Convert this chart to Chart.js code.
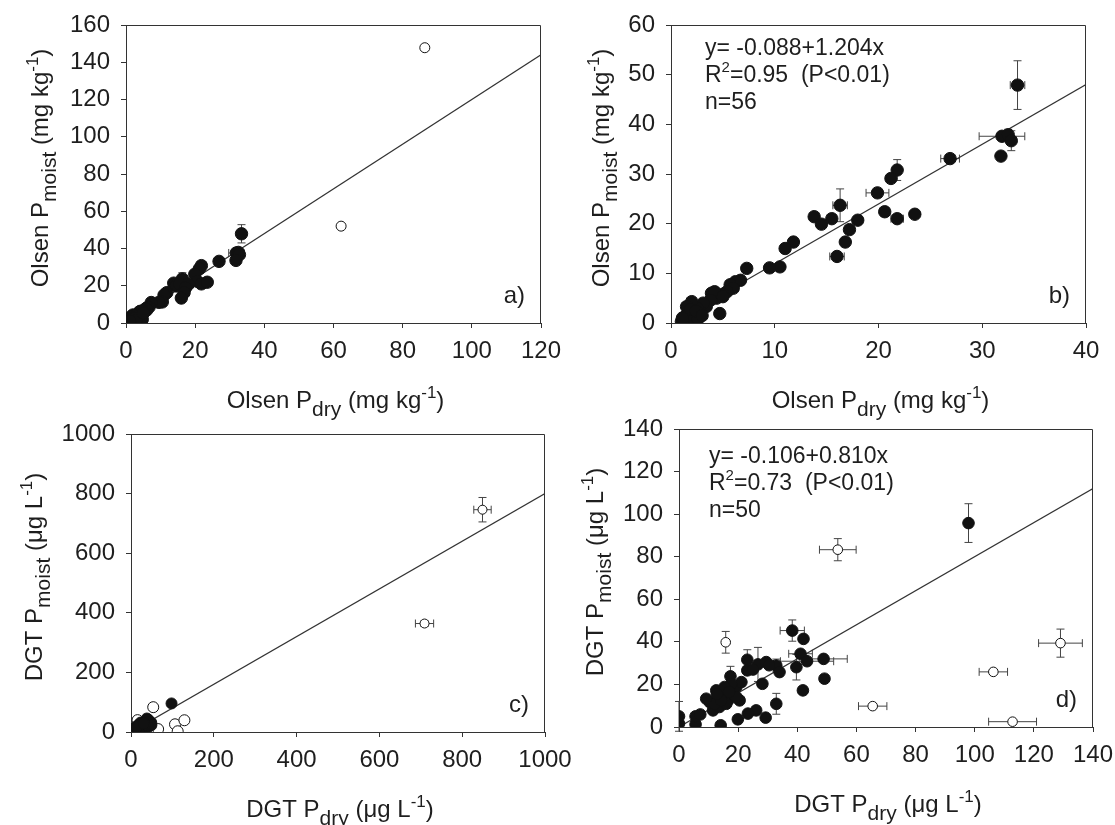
<!DOCTYPE html>
<html>
<head>
<meta charset="utf-8">
<script src="https://cdn.jsdelivr.net/npm/chart.js@4.4.1/dist/chart.umd.min.js"></script>
<style>
    body { margin: 0; background: #fff; }
    #wrap { position: relative; width: 1115px; height: 825px; overflow: hidden; }
    .panel { position: absolute; }
</style>
</head>
<body>
<div id="wrap">
    <div class="panel" style="left:0px;top:0px;width:580px;height:430px"><canvas id="pa"></canvas></div>
    <div class="panel" style="left:557px;top:0px;width:558px;height:430px"><canvas id="pb"></canvas></div>
    <div class="panel" style="left:0px;top:412px;width:580px;height:413px"><canvas id="pc"></canvas></div>
    <div class="panel" style="left:557px;top:412px;width:558px;height:413px"><canvas id="pd"></canvas></div>
</div>
<script>
// Olsen P, closed circles (n=56)
const olsenDry = [33.4, 31.9, 32.5, 32.8, 31.8, 26.9, 21.8, 21.2, 19.9, 20.6, 21.8, 23.5, 16.3, 13.8, 14.5, 15.5,
    18.0, 17.2, 16.8, 16.0, 11.8, 11.0, 10.5, 9.5, 7.3, 6.7, 6.2, 5.7, 6.0, 5.4, 5.0, 4.7, 4.4, 3.9, 4.2, 3.8,
    3.4, 3.1, 2.8, 2.5, 2.3, 2.15, 2.0, 1.8, 1.7, 1.5, 1.35, 1.0, 1.2, 1.6, 2.6, 1.9, 2.4, 3.0, 5.0, 1.1];
const olsenMoist = [47.9, 37.6, 37.9, 36.7, 33.6, 33.1, 30.8, 29.1, 26.2, 22.4, 21.0, 21.9, 23.7, 21.4, 19.9, 21.0,
    20.7, 18.8, 16.3, 13.4, 16.3, 15.0, 11.3, 11.1, 11.0, 8.6, 8.3, 7.7, 7.0, 6.3, 5.8, 1.9, 5.0, 6.0, 6.3, 4.6,
    3.3, 4.0, 2.3, 3.0, 1.9, 1.3, 4.3, 0.9, 2.3, 3.3, 1.3, 0.3, 0.6, 1.6, 0.8, 2.8, 2.4, 1.5, 5.3, 1.0];
const olsenDryErr = [0.7, 2.2, 0, 0, 0, 0.9, 0, 0.4, 1.1, 0, 0.6, 0, 0.7, 0, 0, 0, 0, 0, 0, 0.7];
const olsenMoistErr = [4.9, 0, 1.1, 2.0, 0, 0, 2.1, 0, 0, 0, 0, 0.6, 3.3, 0, 0, 0, 0, 0, 0, 0];
// Olsen P, open circles (outliers, panel a only)
const olsenDryOpen = [86.4, 62.2];
const olsenMoistOpen = [147.8, 52.0];

// DGT P, closed circles (n=50)
const dgtDry = [97.9, 38.3, 42.1, 41.1, 43.3, 48.9, 39.7, 49.2, 41.9, 32.9, 29.3, 26.1, 23.3, 19.9, 14.1, 5.6,
    0, 0, 5.6, 7.2, 23.1, 23.1, 26.7, 29.5, 32.9, 34.0, 28.2, 17.4, 10.4, 11.5, 12.6, 13.2, 14.9, 16.6, 18.3,
    19.4, 20.5, 21.1, 17.7, 15.4, 13.7, 19.4, 16.0, 12.1, 9.2, 14.3, 25.0, 17.0, 12.8, 30.5];
const dgtMoist = [95.8, 45.3, 41.4, 34.4, 30.9, 32.0, 28.1, 22.7, 17.2, 10.9, 4.4, 7.8, 6.3, 3.6, 0.8, 1.25,
    1.6, 5.0, 5.0, 5.9, 31.6, 26.6, 29.4, 30.5, 28.9, 25.8, 20.3, 23.8, 11.7, 7.8, 17.2, 13.3, 14.8, 12.5, 15.6,
    18.8, 12.5, 21.1, 20.3, 18.8, 9.4, 14.1, 10.9, 10.9, 13.3, 12.5, 27.0, 16.5, 15.5, 29.0];
const dgtDryErr = [1.0, 4.1, 0, 4.0, 9.0, 8.0, 0, 0, 0, 0, 0, 0, 0, 0, 0, 0, 0, 0];
const dgtMoistErr = [9.1, 5.0, 0, 0, 0, 0, 6.0, 0, 0, 4.9, 0, 0, 0, 0, 0, 0, 0, 7.0, 0, 0, 4.7, 0, 8.0, 0, 3.0,
    0, 0, 4.7];
// DGT P, open circles inside 0-140
const dgtDryOpen = [53.7, 15.8, 65.5, 106.3, 129.0, 112.8];
const dgtMoistOpen = [83.3, 39.8, 9.8, 25.9, 39.4, 2.5];
const dgtDryOpenErr = [6.2, 0, 4.8, 4.8, 7.4, 8.1];
const dgtMoistOpenErr = [5.2, 5.1, 0, 0, 6.6, 0];
// DGT P, open circles beyond 140 (panel c only)
const dgtDryFar = [849, 709];
const dgtMoistFar = [746, 364];
const dgtDryFarErr = [21, 22];
const dgtMoistFarErr = [41, 10];

// fitted lines, end points
const fitA = [[0, 0], [120, 144]];
const fitB = [[0.5, 0.5], [40, 48]];
const fitC = [[0, 0], [1000, 800]];
const fitD = [[0, 0], [140, 112]];

// tick labels
const ticksAx = [0, 20, 40, 60, 80, 100, 120];
const ticksAy = [0, 20, 40, 60, 80, 100, 120, 140, 160];
const ticksBx = [0, 10, 20, 30, 40];
const ticksBy = [0, 10, 20, 30, 40, 50, 60];
const ticksCx = [0, 200, 400, 600, 800, 1000];
const ticksCy = [0, 200, 400, 600, 800, 1000];
const ticksDx = [0, 20, 40, 60, 80, 100, 120, 140];
const ticksDy = [0, 20, 40, 60, 80, 100, 120, 140];

const FONT = '"Liberation Sans", Arial, Helvetica, sans-serif';
const INK = '#1e1e1e';

function pts(xs, ys) {
    let out = [];
    for (let i = 0; i < xs.length; i++) {
        out.push({x: xs[i], y: ys[i]});
    }
    return out;
}

function T(t) { return {t: t, size: 24, dy: 0}; }
function Sub(t) { return {t: t, size: 21, dy: 8}; }
function Sup(t) { return {t: t, size: 17, dy: -10}; }

function drawRich(ctx, segs, x, y, align) {
    let total = 0;
    segs.forEach(s => {
        ctx.font = s.size + 'px ' + FONT;
        s.w = ctx.measureText(s.t).width;
        total += s.w;
    });
    let cx = align === 'center' ? x - total / 2 : x;
    ctx.textAlign = 'left';
    ctx.textBaseline = 'alphabetic';
    segs.forEach(s => {
        ctx.font = s.size + 'px ' + FONT;
        ctx.fillText(s.t, cx, y + s.dy);
        cx += s.w;
    });
}

const deco = {
    id: 'deco',
    beforeDatasetsDraw(chart) {
        const ctx = chart.ctx;
        const xs = chart.scales.x, ys = chart.scales.y;
        const cap = 4;
        ctx.save();
        ctx.strokeStyle = '#444';
        ctx.lineWidth = 1;
        chart.data.datasets.forEach(ds => {
            if (!ds.xErr && !ds.yErr) return;
            ds.data.forEach((p, i) => {
                const px = xs.getPixelForValue(p.x), py = ys.getPixelForValue(p.y);
                const ex = ds.xErr ? (ds.xErr[i] || 0) : 0;
                const ey = ds.yErr ? (ds.yErr[i] || 0) : 0;
                ctx.beginPath();
                if (ex > 0) {
                    const l = xs.getPixelForValue(p.x - ex), r = xs.getPixelForValue(p.x + ex);
                    ctx.moveTo(l, py); ctx.lineTo(r, py);
                    ctx.moveTo(l, py - cap); ctx.lineTo(l, py + cap);
                    ctx.moveTo(r, py - cap); ctx.lineTo(r, py + cap);
                }
                if (ey > 0) {
                    const t = ys.getPixelForValue(p.y + ey), b = ys.getPixelForValue(p.y - ey);
                    ctx.moveTo(px, t); ctx.lineTo(px, b);
                    ctx.moveTo(px - cap, t); ctx.lineTo(px + cap, t);
                    ctx.moveTo(px - cap, b); ctx.lineTo(px + cap, b);
                }
                ctx.stroke();
            });
        });
        ctx.restore();
    },
    afterDraw(chart) {
        const o = chart.options.plugins.deco;
        const ctx = chart.ctx;
        const a = chart.chartArea;
        ctx.save();
        // top and right frame
        ctx.strokeStyle = '#333';
        ctx.lineWidth = 1;
        ctx.beginPath();
        ctx.moveTo(a.left, a.top + 0.5);
        ctx.lineTo(a.right - 0.5, a.top + 0.5);
        ctx.lineTo(a.right - 0.5, a.bottom);
        ctx.stroke();

        ctx.fillStyle = INK;
        drawRich(ctx, o.xTitle, (a.left + a.right) / 2 + 2, a.bottom + 85, 'center');

        ctx.save();
        ctx.translate(a.left - o.yTitleOff, (a.top + a.bottom) / 2 - 6);
        ctx.rotate(-Math.PI / 2);
        drawRich(ctx, o.yTitle, 0, 0, 'center');
        ctx.restore();

        ctx.font = '24px ' + FONT;
        ctx.textAlign = 'right';
        ctx.textBaseline = 'alphabetic';
        ctx.fillText(o.label, a.right - 16, a.bottom - 20);

        if (o.notes) {
            o.notes.forEach((line, i) => {
                drawRich(ctx, line, a.left + o.notesX, a.top + o.notesY + i * 27, 'left');
            });
        }
        ctx.restore();
    }
};

function noteLines(eq, r2, n) {
    const s = t => ({t: t, size: 23, dy: 0});
    return [
        [s(eq)],
        [s('R'), {t: '2', size: 15, dy: -10}, s(r2)],
        [s(n)]
    ];
}

function axis(ticks, max, size, isX) {
    return {
        type: 'linear',
        min: 0,
        max: max,
        afterBuildTicks: sc => { sc.ticks = ticks.map(v => ({value: v})); },
        afterFit: sc => {
            if (isX) sc.height = size; else sc.width = size;
            sc.paddingLeft = 0; sc.paddingRight = 0; sc.paddingTop = 0; sc.paddingBottom = 0;
        },
        ticks: {
            font: {family: FONT, size: 24},
            color: INK,
            padding: isX ? 9 : 11,
            maxRotation: 0,
            autoSkip: false,
            callback: v => String(v)
        },
        grid: {drawOnChartArea: false, drawTicks: true, tickLength: 5, color: '#333', lineWidth: 1},
        border: {display: true, color: '#333', width: 1}
    };
}

function makePanel(id, p) {
    const datasets = [{
        type: 'line',
        data: p.fit.map(q => ({x: q[0], y: q[1]})),
        borderColor: '#333',
        borderWidth: 1.2,
        pointRadius: 0,
        fill: false,
        order: 5
    }];
    p.sets.forEach(s => {
        datasets.push({
            type: 'scatter',
            data: s.data,
            xErr: s.xErr,
            yErr: s.yErr,
            pointRadius: s.r,
            pointBackgroundColor: s.open ? '#fff' : '#111',
            pointBorderColor: '#111',
            pointBorderWidth: 1,
            order: s.open ? 2 : 1
        });
    });
    return new Chart(document.getElementById(id), {
        data: {datasets: datasets},
        plugins: [deco],
        options: {
            responsive: true,
            maintainAspectRatio: false,
            animation: false,
            events: [],
            layout: {padding: p.pad},
            scales: {
                x: axis(p.xt, p.xmax, p.xh, true),
                y: axis(p.yt, p.ymax, p.yw, false)
            },
            plugins: {
                legend: {display: false},
                tooltip: {enabled: false},
                deco: {
                    xTitle: p.xTitle,
                    yTitle: p.yTitle,
                    yTitleOff: p.yTitleOff,
                    label: p.label,
                    notes: p.notes,
                    notesX: p.notesX,
                    notesY: p.notesY
                }
            }
        }
    });
}

const olsenX = [T('Olsen P'), Sub('dry'), T(' (mg kg'), Sup('-1'), T(')')];
const olsenY = [T('Olsen P'), Sub('moist'), T(' (mg kg'), Sup('-1'), T(')')];
const dgtX = [T('DGT P'), Sub('dry'), T(' (\u03bcg L'), Sup('-1'), T(')')];
const dgtY = [T('DGT P'), Sub('moist'), T(' (\u03bcg L'), Sup('-1'), T(')')];

makePanel('pa', {
    pad: {left: 0, right: 39, top: 25, bottom: 0},
    xt: ticksAx, yt: ticksAy, xmax: 120, ymax: 160, xh: 107, yw: 126,
    fit: fitA,
    sets: [
        {data: pts(olsenDry, olsenMoist), xErr: olsenDryErr, yErr: olsenMoistErr, r: 6.2},
        {data: pts(olsenDryOpen, olsenMoistOpen), r: 5, open: true}
    ],
    xTitle: olsenX, yTitle: olsenY, yTitleOff: 78, label: 'a)'
});

makePanel('pb', {
    pad: {left: 0, right: 29, top: 25, bottom: 0},
    xt: ticksBx, yt: ticksBy, xmax: 40, ymax: 60, xh: 107, yw: 114,
    fit: fitB,
    sets: [
        {data: pts(olsenDry, olsenMoist), xErr: olsenDryErr, yErr: olsenMoistErr, r: 6.2}
    ],
    xTitle: olsenX, yTitle: olsenY, yTitleOff: 62, label: 'b)',
    notes: noteLines('y= -0.088+1.204x', '=0.95  (P<0.01)', 'n=56'), notesX: 34, notesY: 30
});

makePanel('pc', {
    pad: {left: 0, right: 35, top: 22, bottom: 0},
    xt: ticksCx, yt: ticksCy, xmax: 1000, ymax: 1000, xh: 93, yw: 131,
    fit: fitC,
    sets: [
        {data: pts(dgtDry, dgtMoist), r: 5.5},
        {data: pts(dgtDryOpen, dgtMoistOpen), r: 5.5, open: true},
        {data: pts(dgtDryFar, dgtMoistFar), xErr: dgtDryFarErr, yErr: dgtMoistFarErr, r: 4.5, open: true}
    ],
    xTitle: dgtX, yTitle: dgtY, yTitleOff: 89, label: 'c)'
});

makePanel('pd', {
    pad: {left: 0, right: 22, top: 17, bottom: 0},
    xt: ticksDx, yt: ticksDy, xmax: 140, ymax: 140, xh: 98, yw: 122,
    fit: fitD,
    sets: [
        {data: pts(dgtDry, dgtMoist), xErr: dgtDryErr, yErr: dgtMoistErr, r: 5.8},
        {data: pts(dgtDryOpen, dgtMoistOpen), xErr: dgtDryOpenErr, yErr: dgtMoistOpenErr, r: 4.8, open: true}
    ],
    xTitle: dgtX, yTitle: dgtY, yTitleOff: 76, label: 'd)',
    notes: noteLines('y= -0.106+0.810x', '=0.73  (P<0.01)', 'n=50'), notesX: 30, notesY: 34
});
</script>
</body>
</html>
